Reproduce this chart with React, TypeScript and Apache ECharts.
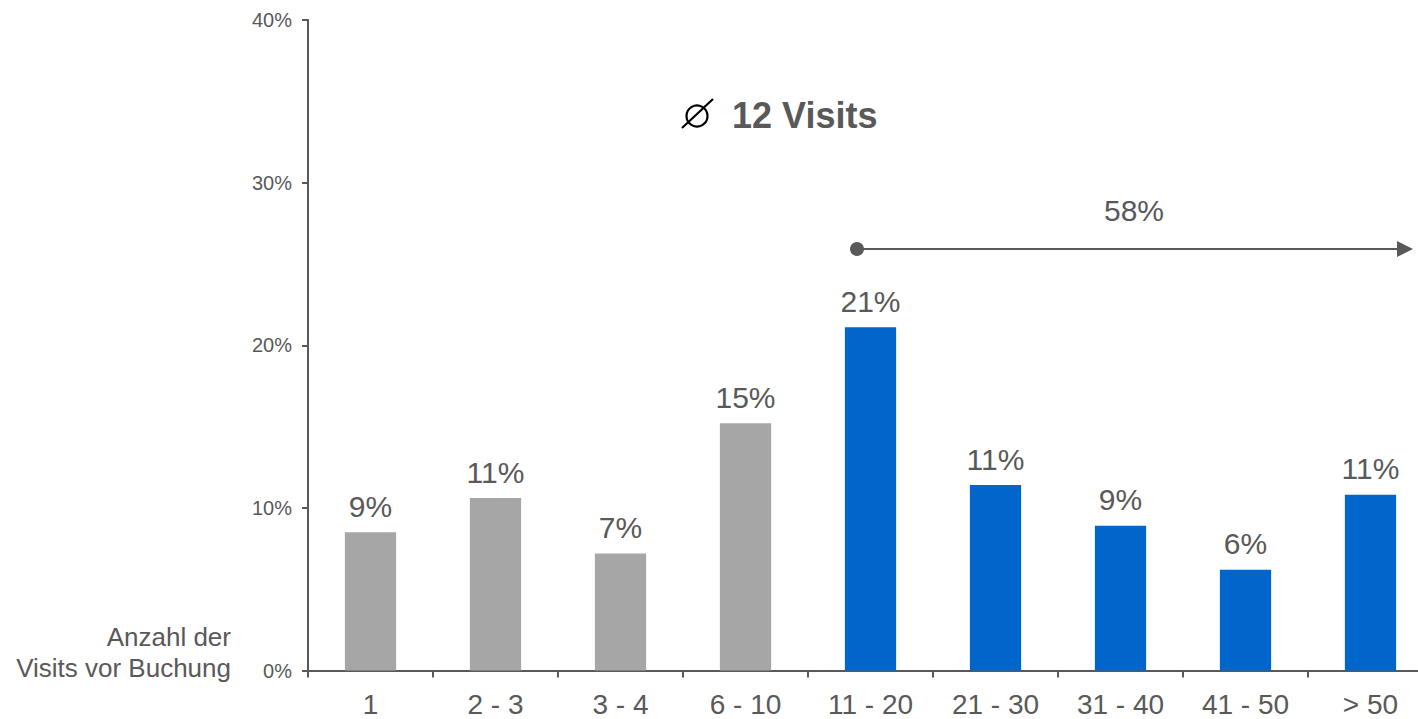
import React, { useEffect, useRef } from "react";
import * as echarts from "echarts";

const categories = ["1", "2 - 3", "3 - 4", "6 - 10", "11 - 20", "21 - 30", "31 - 40", "41 - 50", "> 50"];
const shares = [8.5, 10.6, 7.2, 15.2, 21.1, 11.4, 8.9, 6.2, 10.8];
const highlightFromIndex = 4;
const yMin = 0;
const yMax = 40;
const yInterval = 10;
const averageLabel = "12 Visits";
const cumulativeLabel = "58%";
const axisTitleLines = ["Anzahl der", "Visits vor Buchung"];

const GREY = "#A6A6A6";
const BLUE = "#0066CC";
const TEXT = "#595959";
const FONT = "'Liberation Sans', Arial, Helvetica, sans-serif";

export default function App() {
  const ref = useRef<HTMLDivElement>(null);
  useEffect(() => {
    if (!ref.current) return;
    const chart = echarts.init(ref.current, undefined, { renderer: "svg" });
    chart.setOption({
      animation: false,
      backgroundColor: "#ffffff",
      textStyle: { fontFamily: FONT },
      grid: { left: 308, top: 20, width: 1125, height: 650.5, containLabel: false },
      xAxis: {
        type: "category",
        data: categories,
        boundaryGap: true,
        axisLine: { lineStyle: { color: TEXT, width: 2 } },
        axisTick: { show: true, length: 7, alignWithLabel: false, lineStyle: { color: TEXT, width: 2 } },
        axisLabel: { color: TEXT, fontSize: 28, margin: 20, fontFamily: FONT, interval: 0 },
        splitLine: { show: false },
      },
      yAxis: {
        type: "value",
        min: yMin,
        max: yMax,
        interval: yInterval,
        axisLine: { show: true, lineStyle: { color: TEXT, width: 2 } },
        axisTick: { show: true, length: 6, lineStyle: { color: TEXT, width: 2 } },
        axisLabel: { color: TEXT, fontSize: 20, margin: 16, fontFamily: FONT, formatter: "{value}%" },
        splitLine: { show: false },
      },
      series: [
        {
          type: "bar",
          barWidth: "41%",
          data: shares.map((v, i) => ({
            value: v,
            itemStyle: { color: i >= highlightFromIndex ? BLUE : GREY },
          })),
          label: {
            show: true,
            position: "top",
            distance: 11,
            color: TEXT,
            fontSize: 30,
            fontFamily: FONT,
            formatter: (p: any) => Math.round(p.value) + "%",
          },
        },
      ],
      graphic: [
        {
          type: "circle",
          shape: { cx: 697, cy: 116, r: 10.5 },
          style: { fill: "none", stroke: "#000", lineWidth: 2.2 },
        },
        {
          type: "line",
          shape: { x1: 682, y1: 128, x2: 713, y2: 99 },
          style: { stroke: "#000", lineWidth: 2.2 },
        },
        {
          type: "text",
          x: 732,
          y: 115,
          style: {
            text: averageLabel,
            fill: TEXT,
            font: `bold 36px ${FONT}`,
            textAlign: "left",
            textVerticalAlign: "middle",
          },
        },
        {
          type: "text",
          x: 1134,
          y: 210,
          style: {
            text: cumulativeLabel,
            fill: TEXT,
            font: `30px ${FONT}`,
            textAlign: "center",
            textVerticalAlign: "middle",
          },
        },
        {
          type: "line",
          shape: { x1: 857, y1: 249, x2: 1400, y2: 249 },
          style: { stroke: TEXT, lineWidth: 2 },
        },
        {
          type: "circle",
          shape: { cx: 857, cy: 249, r: 7 },
          style: { fill: TEXT },
        },
        {
          type: "polygon",
          shape: { points: [[1397, 241], [1413, 249], [1397, 257]] },
          style: { fill: TEXT },
        },
        {
          type: "text",
          x: 231,
          y: 637,
          style: {
            text: axisTitleLines[0],
            fill: TEXT,
            font: `26px ${FONT}`,
            textAlign: "right",
            textVerticalAlign: "middle",
          },
        },
        {
          type: "text",
          x: 231,
          y: 668,
          style: {
            text: axisTitleLines[1],
            fill: TEXT,
            font: `26px ${FONT}`,
            textAlign: "right",
            textVerticalAlign: "middle",
          },
        },
      ],
    });
    return () => chart.dispose();
  }, []);
  return (
    <div
      style={{ position: "absolute", left: 0, top: 0, width: 1418, height: 719, overflow: "hidden" }}
    >
      <div ref={ref} style={{ width: 1450, height: 719 }} />
    </div>
  );
}
